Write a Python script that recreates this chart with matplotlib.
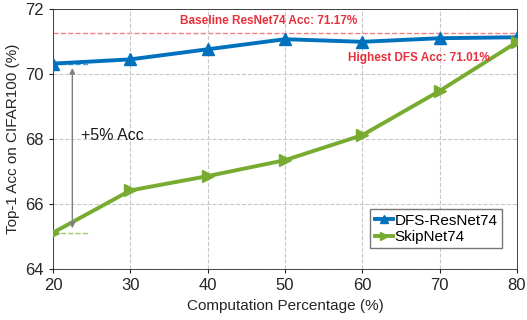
import matplotlib.pyplot as plt

plt.rcParams["font.family"] = ["Liberation Sans", "DejaVu Sans"]

percent = [20, 30, 40, 50, 60, 70, 80]
dfs_acc = [70.32, 70.45, 70.76, 71.07, 70.99, 71.10, 71.13]
skip_acc = [65.12, 66.42, 66.86, 67.35, 68.12, 69.48, 70.98]
baseline_acc = 71.27

blue = "#0072BD"
green = "#77AC30"
red = "#E8303A"

fig = plt.figure(figsize=(5.27, 3.2), dpi=100)
ax = fig.add_axes([0.1006, 0.159, 0.8804, 0.813])

ax.axhline(baseline_acc, color="#F08080", lw=1, ls="--", zorder=1)
ax.plot(percent, dfs_acc, color=blue, lw=2.8, marker="^", ms=8, label="DFS-ResNet74", zorder=3)
ax.plot(percent, skip_acc, color=green, lw=2.8, marker=">", ms=8, label="SkipNet74", zorder=3)

# short guide lines and the gap arrow
ax.plot([20, 24.8], [dfs_acc[0], dfs_acc[0]], color="#5AA0E0", lw=1, ls="--", zorder=2)
ax.plot([20, 24.8], [skip_acc[0], skip_acc[0]], color="#9CC86A", lw=1, ls="--", zorder=2)
ax.annotate("", xy=(22.5, skip_acc[0] + 0.05), xytext=(22.5, dfs_acc[0] - 0.05),
            arrowprops=dict(arrowstyle="<|-|>", color="#808080", lw=1, mutation_scale=8))
ax.text(23.6, 68.1, "+5% Acc", fontsize=11.5, va="center", color="#1a1a1a")

ax.text(47.9, 71.63, "Baseline ResNet74 Acc: 71.17%", color=red, fontsize=8.5,
        fontweight="bold", ha="center", va="center")
ax.text(67.3, 70.49, "Highest DFS Acc: 71.01%", color=red, fontsize=8.5,
        fontweight="bold", ha="center", va="center")

ax.set_xlim(20, 80)
ax.set_ylim(64, 72)
ax.set_xticks(percent)
ax.set_yticks([64, 66, 68, 70, 72])
ax.tick_params(labelsize=12, colors="#262626", length=3)
ax.set_xlabel("Computation Percentage (%)", fontsize=11, color="#262626")
ax.set_ylabel("Top-1 Acc on CIFAR100 (%)", fontsize=11, color="#262626")
ax.grid(True, ls="--", color="#C8C8C8", lw=0.8)
for s in ax.spines.values():
    s.set_color("#262626")
    s.set_linewidth(0.6)

ax.legend(loc="lower right", fontsize=11, handlelength=1.2, handletextpad=0.1,
          borderpad=0.3, labelspacing=0.15, fancybox=False, edgecolor="#555555",
          markerscale=0.7, bbox_to_anchor=(0.985, 0.05))

fig.savefig("out.png")
